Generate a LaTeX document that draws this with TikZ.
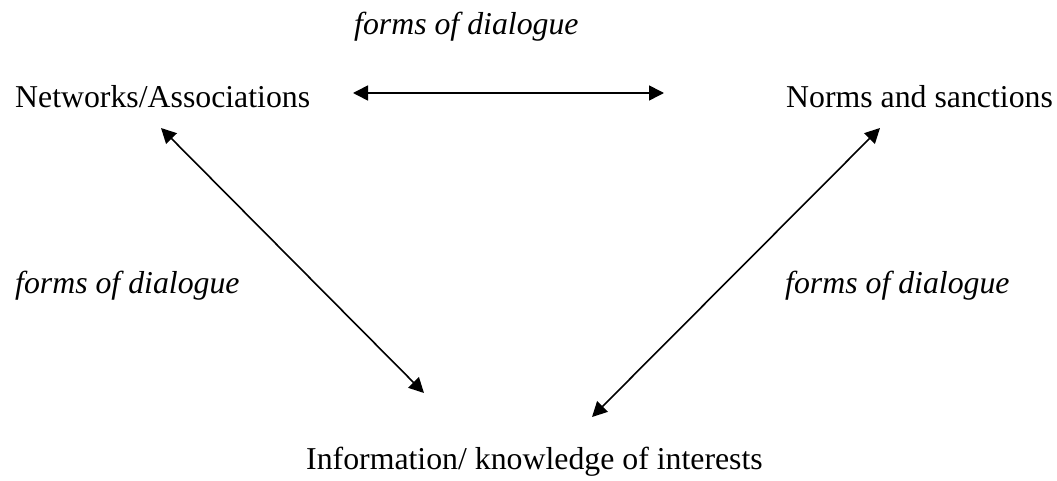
\documentclass[tikz,border=0pt]{standalone}
\usepackage{fontspec}
\setmainfont{Liberation Serif}
\usetikzlibrary{arrows.meta}
\begin{document}
\begin{tikzpicture}[x=1pt,y=-1pt,
  lbl/.style={anchor=base west,inner sep=0pt,font=\fontsize{31.8}{38}\selectfont},
  ilbl/.style={lbl,font=\fontsize{31.8}{38}\selectfont\itshape},
  conn/.style={line width=1.6pt,{Triangle[length=15pt,width=15pt]}-{Triangle[length=15pt,width=15pt]}}]
\useasboundingbox (0,0) rectangle (1057,481);
\node[ilbl] (ftop) at (354,35) {forms of dialogue};
\node[lbl] (net) at (15,108) {Networks/Associations};
\node[lbl] (norms) at (786,108) {Norms and sanctions};
\node[ilbl] (fleft) at (15,293) {forms of dialogue};
\node[ilbl] (fright) at (785,293) {forms of dialogue};
\node[lbl] (info) at (306,469) {Information/ knowledge of interests};
\coordinate (h1) at (353,93);
\coordinate (h2) at (664,93);
\coordinate (l1) at (161,128);
\coordinate (l2) at (424,393);
\coordinate (r1) at (880,128);
\coordinate (r2) at (592,417);
\draw[conn] (h1) -- (h2);
\draw[conn] (l1) -- (l2);
\draw[conn] (r1) -- (r2);
\end{tikzpicture}
\end{document}
